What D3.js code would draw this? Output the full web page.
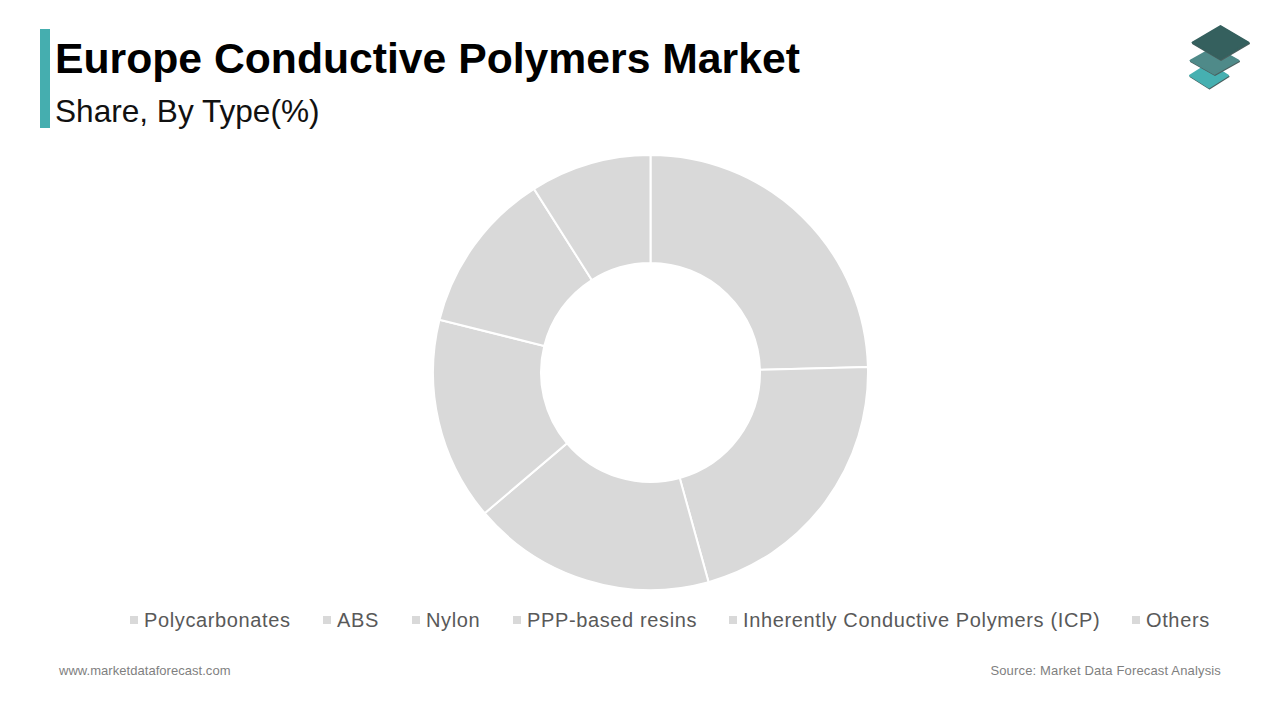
<!DOCTYPE html>
<html>
<head>
<meta charset="utf-8">
<script src="https://cdn.jsdelivr.net/npm/d3@7"></script>
<style>
  html, body { margin: 0; padding: 0; background: #fff; }
  svg { display: block; }
  text { font-family: "Liberation Sans", Arial, sans-serif; }
</style>
</head>
<body>
<svg id="chart" width="1280" height="720"></svg>
<script>
var categories = ["Polycarbonates", "ABS", "Nylon", "PPP-based resins", "Inherently Conductive Polymers (ICP)", "Others"];
var shares = [24.6, 21.1, 18.1, 15.1, 12.1, 9.0];

var width = 1280,
    height = 720;

var svg = d3.select("#chart")
    .attr("viewBox", "0 0 " + width + " " + height);

// header
svg.append("rect")
    .attr("x", 40).attr("y", 29)
    .attr("width", 10).attr("height", 99)
    .attr("fill", "#45aeaf");

svg.append("text")
    .attr("x", 55).attr("y", 73)
    .attr("font-size", 42.7).attr("font-weight", "bold")
    .attr("fill", "#000")
    .text("Europe Conductive Polymers Market");

svg.append("text")
    .attr("x", 55).attr("y", 122)
    .attr("font-size", 31.6)
    .attr("fill", "#111")
    .text("Share, By Type(%)");

// logo, three stacked plates with rounded corners
var plates = [
    {cx: 1209, cy: 75.5, rx: 19, ry: 12, fill: "#46b0b1"},
    {cx: 1214.5, cy: 60.5, rx: 24, ry: 13.5, fill: "#4f8a89"},
    {cx: 1220.5, cy: 42.5, rx: 28, ry: 16.5, fill: "#35605e"}
];
var logo = svg.append("g");
plates.forEach(function(p) {
    var pts = [[p.cx, p.cy - p.ry], [p.cx + p.rx, p.cy], [p.cx, p.cy + p.ry], [p.cx - p.rx, p.cy]];
    logo.append("polygon")
        .attr("points", pts.map(function(d) { return (d[0] + 0.5) + "," + (d[1] + 1); }).join(" "))
        .attr("fill", "#4a5f5e")
        .attr("stroke", "#4a5f5e").attr("stroke-width", 2).attr("stroke-linejoin", "round");
    logo.append("polygon")
        .attr("points", pts.map(function(d) { return d.join(","); }).join(" "))
        .attr("fill", p.fill)
        .attr("stroke", p.fill).attr("stroke-width", 2).attr("stroke-linejoin", "round");
});

// donut
var pie = d3.pie().sort(null)(shares);
var arc = d3.arc().innerRadius(109.5).outerRadius(217.5);

svg.append("g")
    .attr("transform", "translate(650.5,372.5)")
    .selectAll("path")
    .data(pie)
  .enter().append("path")
    .attr("d", arc)
    .attr("fill", "#d9d9d9")
    .attr("stroke", "#fff")
    .attr("stroke-width", 2);

// legend
var legendX = [130, 323, 412, 513, 729, 1132];
var legend = svg.append("g").selectAll("g")
    .data(categories)
  .enter().append("g")
    .attr("transform", function(d, i) { return "translate(" + legendX[i] + ",620)"; });

legend.append("rect")
    .attr("x", 0).attr("y", -4)
    .attr("width", 8).attr("height", 8)
    .attr("fill", "#d9d9d9");

legend.append("text")
    .attr("x", 14).attr("y", 7)
    .attr("font-size", 20)
    .attr("letter-spacing", 0.63)
    .attr("fill", "#595959")
    .text(function(d) { return d; });

// footer
svg.append("text")
    .attr("x", 59).attr("y", 675)
    .attr("font-size", 13)
    .attr("letter-spacing", 0.04)
    .attr("fill", "#7f7f7f")
    .text("www.marketdataforecast.com");

svg.append("text")
    .attr("x", 1221).attr("y", 675)
    .attr("text-anchor", "end")
    .attr("font-size", 13)
    .attr("letter-spacing", 0.16)
    .attr("fill", "#7f7f7f")
    .text("Source: Market Data Forecast Analysis");
</script>
</body>
</html>
